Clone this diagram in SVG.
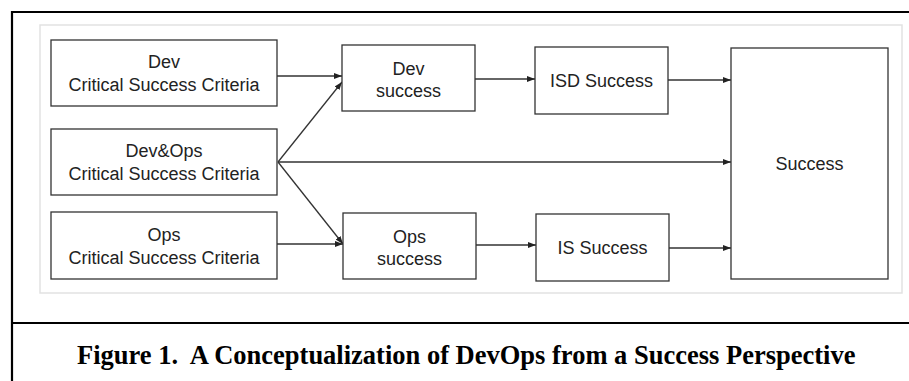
<svg xmlns="http://www.w3.org/2000/svg" width="909" height="381" viewBox="0 0 909 381">
<defs>
<style>
.box{fill:#fff;stroke:#333;stroke-width:1.3}
.lbl{font-family:"Liberation Sans",Arial,sans-serif;font-size:18px;fill:#222;text-anchor:middle}
.con{stroke:#333;stroke-width:1.3;fill:none;marker-end:url(#ah)}
.frame{stroke:#000;stroke-width:2.2;fill:none}
</style>
<marker id="ah" markerUnits="userSpaceOnUse" markerWidth="8" markerHeight="6" refX="8" refY="3" orient="auto">
<path d="M0,0 L8,3 L0,6 z" fill="#222"/>
</marker>
</defs>
<rect width="909" height="381" fill="#fff"/>
<path class="frame" d="M12,381 L12,12 L909,12 M12,323 L909,323"/>
<rect x="40" y="25" width="862" height="268" fill="#fff" stroke="#e2e2e2" stroke-width="1.5"/>
<g id="connectors">
<line class="con" x1="277" y1="76" x2="342" y2="76"/>
<line class="con" x1="278" y1="162" x2="342" y2="82"/>
<line class="con" x1="278" y1="162" x2="731" y2="162"/>
<line class="con" x1="278" y1="162" x2="343" y2="244"/>
<line class="con" x1="277" y1="244" x2="343" y2="244"/>
<line class="con" x1="475" y1="79" x2="535" y2="79"/>
<line class="con" x1="668" y1="80" x2="731" y2="80"/>
<line class="con" x1="476" y1="245" x2="536" y2="245"/>
<line class="con" x1="669" y1="248" x2="731" y2="248"/>
</g>
<g id="dev-csc">
<rect class="box" x="51" y="40" width="226" height="66"/>
<text class="lbl" x="164" y="68">Dev</text>
<text class="lbl" x="164" y="91">Critical Success Criteria</text>
</g>
<g id="devops-csc">
<rect class="box" x="51" y="129" width="226" height="66"/>
<text class="lbl" x="164" y="157">Dev&amp;Ops</text>
<text class="lbl" x="164" y="180">Critical Success Criteria</text>
</g>
<g id="ops-csc">
<rect class="box" x="51" y="212" width="226" height="67"/>
<text class="lbl" x="164" y="241">Ops</text>
<text class="lbl" x="164" y="264">Critical Success Criteria</text>
</g>
<g id="dev-success">
<rect class="box" x="342" y="45" width="133" height="66"/>
<text class="lbl" x="408.5" y="75">Dev</text>
<text class="lbl" x="408.5" y="97">success</text>
</g>
<g id="ops-success">
<rect class="box" x="343" y="213" width="133" height="66"/>
<text class="lbl" x="409.5" y="243">Ops</text>
<text class="lbl" x="409.5" y="265">success</text>
</g>
<g id="isd-success">
<rect class="box" x="535" y="47" width="133" height="67"/>
<text class="lbl" x="601.5" y="87">ISD Success</text>
</g>
<g id="is-success">
<rect class="box" x="536" y="214" width="133" height="67"/>
<text class="lbl" x="602.5" y="254">IS Success</text>
</g>
<g id="success">
<rect class="box" x="731" y="48" width="157" height="231"/>
<text class="lbl" x="809.5" y="170">Success</text>
</g>
<text x="77" y="364" font-family="'Liberation Serif','Times New Roman',serif" font-weight="bold" font-size="26.5" fill="#000" xml:space="preserve">Figure 1.  A Conceptualization of DevOps from a Success Perspective</text>
</svg>
